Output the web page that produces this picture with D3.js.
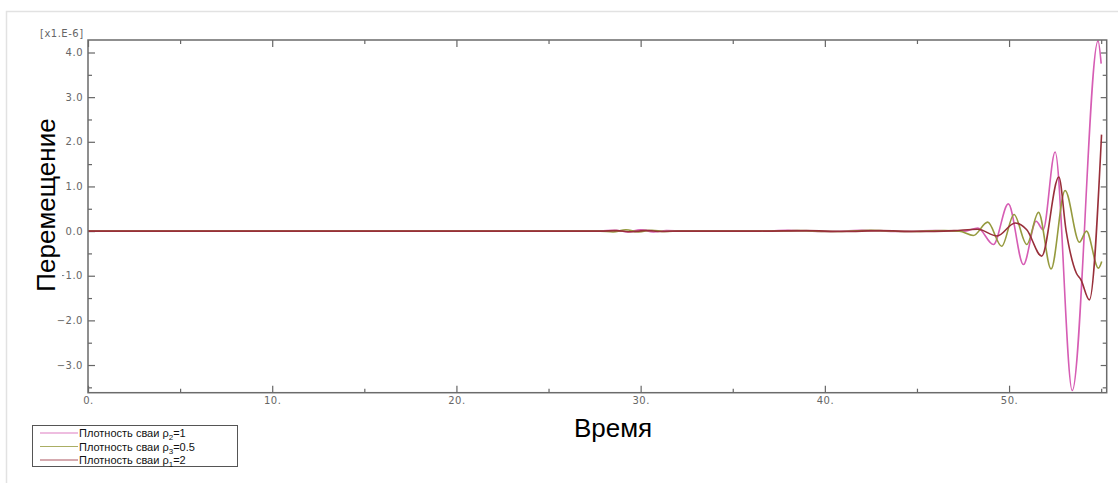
<!DOCTYPE html>
<html>
<head>
<meta charset="utf-8">
<script src="https://cdn.jsdelivr.net/npm/d3@7"></script>
<style>
  body { margin: 0; background: #fff; }
</style>
</head>
<body>
<script>
const width = 1118;
const height = 483;

// time axis and displacement axis, values in units of 1e-6
const xTicks = [0, 10, 20, 30, 40, 50];
const xMinor = [5, 15, 25, 35, 45, 55];
const yTicks = [-3, -2, -1, 0, 1, 2, 3, 4];
const yMinor = [-3.5, -2.5, -1.5, -0.5, 0.5, 1.5, 2.5, 3.5];

// rho2 = 1 (pink)
const pinkT = [0, 27.8, 28.6, 29.3, 30.0, 30.7, 31.4, 32.3, 36.5, 38, 40, 42, 44, 46, 47.6, 48.3, 49.15, 49.96, 50.78, 51.47, 51.85, 52.5, 53.43, 54.83, 55.0];
const pinkV = [0, 0, 0.02, -0.02, 0.03, -0.02, 0.01, 0, 0, 0.015, -0.01, 0.015, -0.01, 0.01, 0, 0.07, -0.30, 0.61, -0.75, 0.22, 0.03, 1.77, -3.57, 4.26, 3.75];

// rho3 = 0.5 (olive)
const oliveT = [0, 27.8, 28.5, 29.2, 29.9, 30.6, 31.3, 32.2, 36.5, 38.5, 40.5, 42.5, 44.5, 46.5, 47.3, 48.06, 48.84, 49.6, 50.27, 50.96, 51.6, 52.28, 53.04, 53.82, 54.2, 54.85, 55.03];
const oliveV = [0, 0, -0.02, 0.03, -0.02, 0.02, -0.01, 0, 0, 0.01, -0.01, 0.015, -0.01, 0.01, 0, -0.10, 0.20, -0.34, 0.37, -0.30, 0.42, -0.85, 0.91, -0.25, 0.0, -0.83, -0.68];

// rho1 = 2 (dark red)
const redT = [0, 27.8, 28.7, 29.5, 30.3, 31.1, 32.0, 36.5, 39, 41, 43, 45, 47, 48.3, 49.35, 50.33, 50.96, 51.77, 52.7, 53.1, 53.65, 53.9, 54.36, 55.02];
const redV = [0, 0, 0.01, -0.015, 0.015, -0.01, 0, 0, 0.01, -0.01, 0.01, -0.01, 0.01, 0.04, -0.11, 0.18, 0.03, -0.56, 1.21, 0.0, -0.94, -1.09, -1.54, 2.16];

const series = [
  {name: "2", val: "1", color: "#d65db4", t: pinkT, v: pinkV},
  {name: "3", val: "0.5", color: "#959a3e", t: oliveT, v: oliveV},
  {name: "1", val: "2", color: "#982f3a", t: redT, v: redV}
];

const plotLeft = 88, plotRight = 1106.7, plotTop = 40, plotBottom = 392.7;

let svg = d3.select("body").append("svg")
  .attr("width", width)
  .attr("height", height);

// light outer frame
svg.append("rect")
  .attr("x", 6.5).attr("y", 11.5)
  .attr("width", 1200).attr("height", 600)
  .attr("fill", "none")
  .attr("stroke", "#e2e2e2")
  .attr("stroke-width", 1.5);

let x = d3.scaleLinear().domain([0, 55.3]).range([plotLeft, plotRight]);
let y = d3.scaleLinear().domain([-3.62, 4.28]).range([plotBottom, plotTop]);

const tickColor = "#666";

function styleAxis(g) {
  g.select(".domain").remove();
  g.selectAll("line").attr("stroke", tickColor).attr("stroke-width", 1.2);
  g.selectAll("text")
    .attr("fill", "#666")
    .style("font-family", "DejaVu Sans")
    .style("font-size", "10px")
    .style("letter-spacing", "0.5px");
}

// bottom
svg.append("g").attr("transform", `translate(0,${plotBottom})`)
  .call(d3.axisBottom(x).tickValues(xTicks).tickSize(-7).tickPadding(4).tickFormat(d => d + "."))
  .call(styleAxis);
svg.append("g").attr("transform", `translate(0,${plotBottom})`)
  .call(d3.axisBottom(x).tickValues(xMinor).tickSize(-4).tickFormat(""))
  .call(styleAxis);
// top
svg.append("g").attr("transform", `translate(0,${plotTop})`)
  .call(d3.axisTop(x).tickValues(xTicks).tickSize(-7).tickFormat(""))
  .call(styleAxis);
svg.append("g").attr("transform", `translate(0,${plotTop})`)
  .call(d3.axisTop(x).tickValues(xMinor).tickSize(-4).tickFormat(""))
  .call(styleAxis);
// left
svg.append("g").attr("transform", `translate(${plotLeft},0)`)
  .call(d3.axisLeft(y).tickValues(yTicks).tickSize(-7).tickPadding(5).tickFormat(d3.format(".1f")))
  .call(styleAxis);
svg.append("g").attr("transform", `translate(${plotLeft},0)`)
  .call(d3.axisLeft(y).tickValues(yMinor).tickSize(-4).tickFormat(""))
  .call(styleAxis);
// right
svg.append("g").attr("transform", `translate(${plotRight},0)`)
  .call(d3.axisRight(y).tickValues(yTicks).tickSize(-6).tickFormat(""))
  .call(styleAxis);
svg.append("g").attr("transform", `translate(${plotRight},0)`)
  .call(d3.axisRight(y).tickValues(yMinor).tickSize(-4).tickFormat(""))
  .call(styleAxis);

// curves
let line = d3.line()
  .x(d => x(d[0]))
  .y(d => y(d[1]))
  .curve(d3.curveMonotoneX);

series.forEach(function(s) {
  svg.append("path")
    .datum(d3.zip(s.t, s.v))
    .attr("d", line)
    .attr("fill", "none")
    .attr("stroke", s.color)
    .attr("stroke-width", 1.6);
});

// frame
svg.append("rect")
  .attr("x", plotLeft).attr("y", plotTop)
  .attr("width", plotRight - plotLeft).attr("height", plotBottom - plotTop)
  .attr("fill", "none")
  .attr("stroke", "#6b6b6b")
  .attr("stroke-width", 1.5);

// scale factor label
svg.append("text")
  .attr("x", 40).attr("y", 37)
  .attr("fill", "#666")
  .style("font-family", "DejaVu Sans")
  .style("font-size", "10px")
  .style("letter-spacing", "0.5px")
  .text("[x1.E-6]");

// y title with white backing (covers part of the tick labels, as in the original)
let yTitle = svg.append("g").attr("transform", "translate(55,205) rotate(-90)");
let yt = yTitle.append("text")
  .attr("text-anchor", "middle")
  .style("font-family", "Liberation Sans")
  .style("font-size", "26px")
  .attr("fill", "#000")
  .text("Перемещение");
let bb = yt.node().getBBox();
yTitle.insert("rect", "text")
  .attr("x", bb.x - 2).attr("y", bb.y)
  .attr("width", bb.width + 4).attr("height", bb.height + 1)
  .attr("fill", "#fff");

// x title
svg.append("text")
  .attr("x", 613).attr("y", 437)
  .attr("text-anchor", "middle")
  .style("font-family", "Liberation Sans")
  .style("font-size", "26px")
  .attr("fill", "#000")
  .text("Время");

// legend
let legend = svg.append("g");
legend.append("rect")
  .attr("x", 32.5).attr("y", 425.5)
  .attr("width", 205).attr("height", 41)
  .attr("fill", "#fff")
  .attr("stroke", "#555")
  .attr("stroke-width", 1);

series.forEach(function(s, i) {
  let ly = 433 + i * 13.5;
  legend.append("line")
    .attr("x1", 40).attr("x2", 78)
    .attr("y1", ly).attr("y2", ly)
    .attr("stroke", s.color)
    .attr("stroke-width", 1.2)
    .attr("opacity", 0.8);
  let t = legend.append("text")
    .attr("x", 79).attr("y", ly + 4)
    .style("font-family", "Liberation Sans")
    .style("font-size", "11px")
    .attr("fill", "#111");
  t.append("tspan").text("Плотность сваи ρ");
  t.append("tspan").attr("dy", 3).style("font-size", "8px").text(s.name);
  t.append("tspan").attr("dy", -3).text("=" + s.val);
});
</script>
</body>
</html>
